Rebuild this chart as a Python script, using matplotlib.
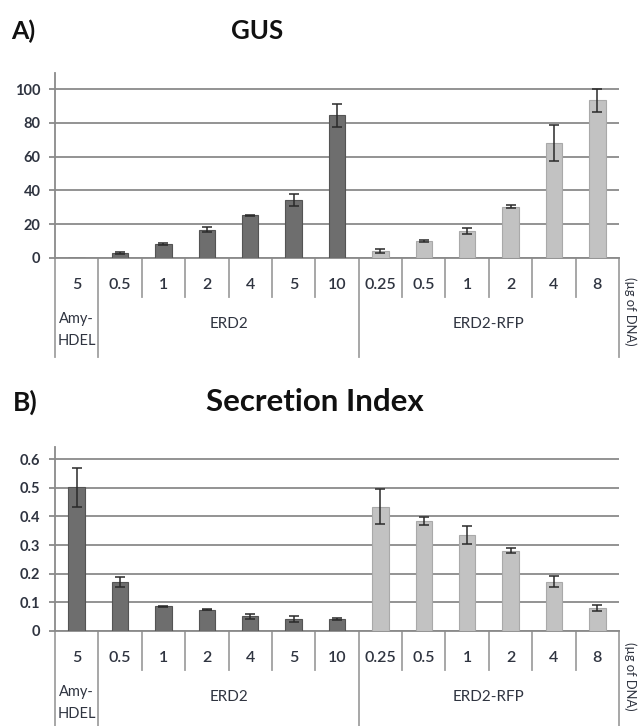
import numpy as np
import matplotlib
matplotlib.use("Agg")
import matplotlib.pyplot as plt
from matplotlib.transforms import blended_transform_factory

plt.rcParams['font.family'] = ['Lato', 'DejaVu Sans']

# Categories (µg of DNA) and their groups
doses = ["5", "0.5", "1", "2", "4", "5", "10", "0.25", "0.5", "1", "2", "4", "8"]
groups = [("Amy-\nHDEL", 0, 0), ("ERD2", 1, 6), ("ERD2-RFP", 7, 12)]

# GUS activity
gus_mean = [0, 3, 8.5, 16.8, 25.3, 34.3, 84.5, 4.2, 10.1, 16, 30.3, 68.3, 93.3]
gus_err = [0, 0.6, 0.6, 1.5, 0.3, 3.7, 6.7, 1.0, 0.4, 2.0, 0.8, 10.6, 6.7]

# Secretion index
si_mean = [0.502, 0.172, 0.086, 0.075, 0.051, 0.042, 0.043,
           0.434, 0.383, 0.335, 0.280, 0.172, 0.081]
si_err = [0.068, 0.018, 0.002, 0.003, 0.010, 0.009, 0.003,
          0.061, 0.014, 0.032, 0.009, 0.019, 0.010]

W, H = 643, 726
DARK, DARK_EDGE = "#6e6e6e", "#545454"
LIGHT, LIGHT_EDGE = "#c2c2c2", "#a9a9a9"
GRID = "#8a8a8a"
TXT = "#2f3440"

fig = plt.figure(figsize=(W / 100, H / 100), dpi=100)


def fx(px):
    return px / W


def fy(py):
    return 1 - py / H


def panel(top_px, bottom_px, label_bottom_px, values, errs, ylim, yticks,
          ylabels):
    ax = fig.add_axes([fx(55), fy(bottom_px), fx(619 - 55),
                       (bottom_px - top_px) / H])
    hpx = bottom_px - top_px
    x = np.arange(len(doses))
    colors = [DARK if i <= 6 else LIGHT for i in x]
    edges = [DARK_EDGE if i <= 6 else LIGHT_EDGE for i in x]
    ax.bar(x, values, width=0.38, color=colors, edgecolor=edges,
           linewidth=0.8, zorder=3)
    sel = [i for i in x if errs[i] > 0]
    ax.errorbar(x[sel], np.array(values)[sel], yerr=np.array(errs)[sel],
                fmt="none", ecolor="#2a2a2a", elinewidth=1.1, capsize=3.3,
                capthick=1.1, zorder=4)
    ax.set_xlim(-0.5, len(doses) - 0.5)
    ax.set_ylim(*ylim)
    ax.set_yticks(yticks)
    ax.set_yticklabels(ylabels)
    ax.yaxis.grid(True, color=GRID, linewidth=1.3, zorder=0)
    ax.set_axisbelow(True)
    ax.set_xticks([])
    for s in ("top", "right"):
        ax.spines[s].set_visible(False)
    for s in ("left", "bottom"):
        ax.spines[s].set_color(GRID)
        ax.spines[s].set_linewidth(1.3)
    ax.tick_params(axis="y", length=4.5, width=1.3, color=GRID, pad=6,
                   labelsize=10.5, labelcolor=TXT)
    for lab in ax.get_yticklabels():
        lab.set_fontweight("bold")

    tr = blended_transform_factory(ax.transData, ax.transAxes)

    def ay(py):
        return -(py - bottom_px) / hpx

    # category dividers
    group_edges = {0.5, 6.5}
    for b in np.arange(0.5, len(doses) - 0.5, 1.0):
        low = label_bottom_px if b in group_edges else bottom_px + 39
        ax.plot([b, b], [0, ay(low)], transform=tr, color="#a0a0a0",
                lw=1.3, clip_on=False)
    for b in (-0.5, len(doses) - 0.5):
        ax.plot([b, b], [0, ay(label_bottom_px)], transform=tr,
                color="#a0a0a0", lw=1.3, clip_on=False)

    # dose labels
    for i, d in enumerate(doses):
        ax.text(i, ay(bottom_px + 27), d, transform=tr, ha="center",
                va="center", fontsize=11.5, fontweight="semibold", color=TXT)
    # group labels
    for name, a, b in groups:
        if "\n" in name:
            l1, l2 = name.split("\n")
            ax.text(a, ay(bottom_px + 61), l1, transform=tr, ha="center",
                    va="center", fontsize=10.5, color=TXT)
            ax.text(a, ay(bottom_px + 83), l2, transform=tr, ha="center",
                    va="center", fontsize=10.5, color=TXT)
        else:
            ax.text((a + b) / 2, ay(bottom_px + 66), name, transform=tr,
                    ha="center", va="center", fontsize=11, color=TXT)
    return ax


panel(73, 258, 357, gus_mean, gus_err, (0, 109.5), [0, 20, 40, 60, 80, 100],
      ["0", "20", "40", "60", "80", "100"])
panel(447, 631, 730, si_mean, si_err, (0, 0.642),
      [0, 0.1, 0.2, 0.3, 0.4, 0.5, 0.6],
      ["0", "0.1", "0.2", "0.3", "0.4", "0.5", "0.6"])

# panel letters and titles
fig.text(fx(11), fy(31), "A)", fontsize=18, fontweight="bold", color="#111",
         va="center", ha="left")
fig.text(fx(257), fy(31), "GUS", fontsize=18.5, fontweight="bold",
         color="#111", va="center", ha="center")
fig.text(fx(13), fy(402), "B)", fontsize=19, fontweight="bold", color="#111",
         va="center", ha="left")
fig.text(fx(315), fy(402), "Secretion Index", fontsize=22.5,
         fontweight="bold", color="#111", va="center", ha="center")

# unit label
for yc in (311, 676):
    fig.text(fx(630), fy(yc), "(µg of DNA)", rotation=-90, fontsize=9.3,
             color=TXT, va="center", ha="center")

fig.savefig("out.png", dpi=100, facecolor="white")
